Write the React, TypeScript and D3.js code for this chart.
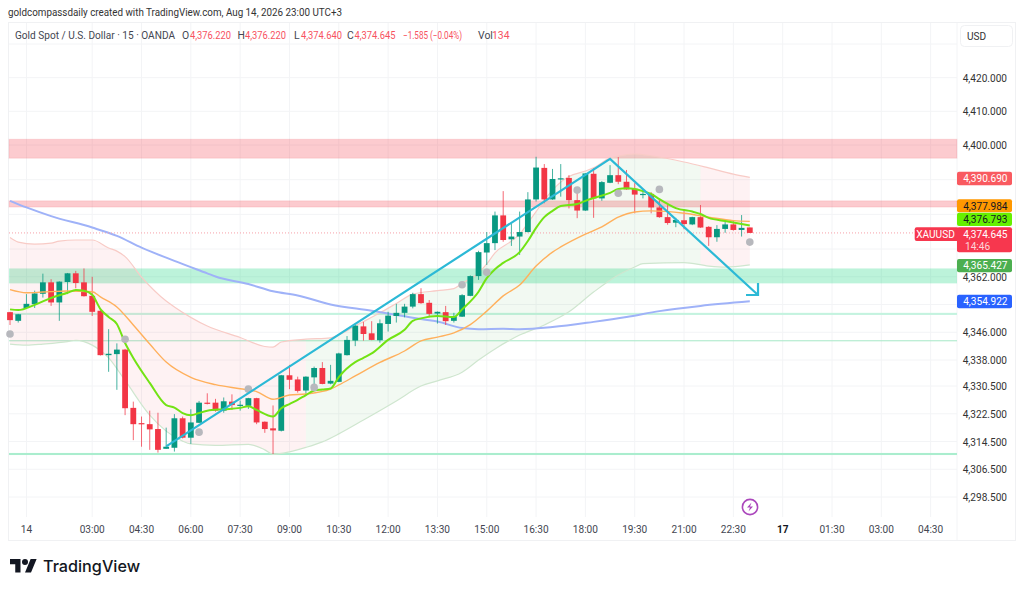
import React from 'react'
import * as d3 from 'd3'

const opens = [4351.8,4349.3,4353.0,4354.1,4357.1,4360.4,4354.6,4360.5,4363.0,4360.4,4356.5,4352.2,4339.4,4339.7,4341.0,4324.2,4319.8,4319.5,4318.1,4312.4,4312.7,4321.2,4315.6,4319.9,4325.7,4325.7,4323.4,4326.0,4324.9,4324.8,4327.0,4320.2,4318.3,4317.6,4333.6,4332.4,4329.2,4333.0,4335.7,4331.2,4331.7,4339.4,4343.6,4347.7,4345.7,4343.7,4348.4,4350.7,4351.6,4353.4,4357.0,4354.5,4351.4,4351.8,4349.3,4350.5,4356.5,4362.2,4369.0,4371.7,4379.7,4372.8,4373.6,4374.9,4384.3,4393.4,4384.3,4390.2,4390.5,4384.1,4381.1,4391.7,4384.6,4389.1,4391.3,4389.4,4387.4,4385.7,4385.9,4382.0,4379.2,4377.6,4378.3,4377.1,4379.2,4376.4,4373.4,4375.8,4377.1,4375.5,4376.22]
const highs = [4351.9,4351.3,4357.0,4358.0,4362.9,4361.3,4360.7,4363.1,4363.7,4364.4,4362.0,4352.4,4346.9,4342.8,4341.2,4326.0,4321.7,4323.4,4322.8,4318.5,4322.4,4321.7,4323.8,4326.2,4328.4,4326.8,4327.2,4328.1,4326.3,4327.1,4327.1,4320.3,4324.9,4333.7,4336.6,4333.2,4333.3,4336.1,4337.4,4336.6,4340.1,4344.9,4348.2,4349.0,4349.2,4349.7,4351.9,4354.2,4354.2,4357.4,4358.7,4355.3,4352.0,4353.6,4351.6,4357.0,4362.4,4369.5,4374.9,4380.8,4386.7,4377.4,4380.8,4386.4,4396.6,4394.5,4393.1,4394.5,4391.3,4387.9,4391.9,4393.3,4389.6,4394.2,4396.5,4392.8,4389.0,4387.0,4386.4,4384.1,4382.7,4379.0,4381.5,4379.3,4382.7,4376.6,4376.9,4377.9,4378.2,4379.8,4376.22]
const lows = [4348.1,4348.8,4353.0,4353.0,4356.0,4353.6,4349.3,4357.0,4358.7,4356.3,4350.7,4339.3,4334.6,4329.4,4322.1,4314.9,4313.0,4312.1,4311.3,4312.4,4311.6,4315.4,4313.8,4319.8,4325.2,4323.1,4322.8,4323.6,4323.4,4323.9,4319.5,4317.0,4310.9,4317.4,4329.6,4328.6,4327.9,4330.3,4331.0,4331.0,4331.6,4339.3,4342.0,4343.6,4343.7,4343.0,4346.2,4348.8,4350.3,4352.9,4354.2,4350.3,4348.5,4348.1,4348.8,4350.4,4356.4,4361.1,4365.4,4369.7,4372.1,4370.9,4368.3,4374.8,4383.7,4383.2,4384.2,4385.1,4381.7,4378.9,4381.0,4379.0,4383.9,4389.0,4388.7,4387.1,4380.3,4384.6,4380.3,4379.0,4377.0,4376.3,4375.7,4376.9,4376.1,4370.9,4372.1,4374.7,4375.3,4373.6,4374.64]
const closes = [4349.5,4351.2,4354.2,4357.2,4360.4,4354.6,4360.6,4363.0,4360.2,4356.4,4351.9,4339.4,4339.8,4341.0,4324.1,4319.5,4319.5,4318.0,4312.1,4313.0,4321.2,4315.6,4320.0,4325.7,4325.4,4323.4,4326.1,4325.0,4325.1,4327.0,4320.0,4318.1,4317.7,4333.6,4332.3,4329.1,4333.2,4335.7,4331.1,4332.0,4339.9,4343.8,4347.9,4345.5,4343.8,4348.6,4350.8,4351.6,4353.4,4357.0,4354.4,4351.3,4351.9,4349.2,4350.6,4356.7,4362.2,4369.1,4371.7,4379.7,4372.6,4373.6,4374.9,4384.3,4393.5,4384.3,4390.2,4390.4,4384.1,4381.1,4391.8,4384.6,4389.3,4391.3,4389.4,4387.2,4385.7,4385.9,4382.0,4379.2,4377.5,4378.4,4377.2,4379.2,4376.2,4373.4,4375.8,4377.1,4375.5,4376.1,4374.645]

const fastIdx = [0,1,3,5,7,8,9,10,11,12,13,14,15,17,19,20,21,22,23,24,26,28,29,30,32,33,34,35,36,37,38,39,40,42,43,44,46,48,49,50,52,54,55,57,58,59,60,62,63,64,65,66,67,69,70,71,73,74,75,76,77,78,79,80,81,83,84,85,87,90]
const fastVal = [4352.6,4352.4,4353.9,4355.9,4357.4,4358.2,4358.0,4356.8,4352.7,4350.4,4348.4,4342.9,4338.6,4331.4,4325.0,4324.3,4322.7,4322.1,4322.7,4323.4,4323.8,4324.2,4324.7,4323.6,4321.7,4324.1,4325.3,4326.5,4327.9,4329.2,4329.5,4329.8,4333.1,4337.4,4338.6,4339.9,4343.8,4346.7,4349.3,4350.0,4350.7,4350.4,4352.6,4357.7,4361.6,4364.2,4366.0,4369.1,4372.3,4376.1,4379.2,4381.0,4382.4,4383.0,4383.9,4384.7,4386.2,4387.3,4387.5,4387.3,4386.7,4385.9,4384.4,4383.0,4381.8,4380.8,4380.1,4379.0,4378.1,4376.793]

const slowIdx = [0,2,4,7,10,11,13,15,17,19,22,25,28,30,32,34,36,39,40,42,45,48,50,52,54,56,58,60,62,64,66,67,70,72,74,76,78,82,85,88,90]
const slowVal = [4358.3,4357.4,4357.6,4357.9,4357.7,4356.2,4353.3,4348.1,4342.6,4337.4,4333.0,4330.9,4329.7,4328.9,4326.7,4327.9,4328.2,4329.6,4330.8,4333.4,4337.3,4340.6,4343.5,4344.6,4345.8,4348.2,4352.1,4356.5,4359.6,4365.1,4369.1,4370.6,4374.3,4376.4,4379.2,4380.7,4381.0,4380.3,4379.2,4378.2,4377.984]

const longIdx = [0,2,5,10,13,16,20,24,25,29,32,35,39,44,47,50,52,55,57,60,62,66,71,75,79,84,90]
const longVal = [4383.9,4382.0,4379.5,4376.2,4373.8,4370.4,4366.6,4363.0,4362.1,4359.9,4357.8,4356.6,4354.0,4352.2,4351.0,4349.8,4349.1,4347.2,4346.9,4347.0,4346.9,4347.5,4349.0,4350.4,4352.1,4353.6,4354.922]

const upperIdx = [0,1,3,5,6,8,10,12,13,14,16,19,20,24,28,31,32,33,36,39,40,42,45,47,49,52,54,55,57,58,59,61,62,63,64,65,66,67,68,70,71,73,74,76,78,82,85,88,90]
const upperVal = [4373.3,4372.0,4371.4,4371.7,4372.3,4372.6,4372.6,4370.3,4369.4,4367.8,4361.9,4355.0,4353.3,4347.8,4344.5,4341.9,4341.7,4343.2,4344.0,4344.4,4345.2,4347.8,4351.6,4354.3,4357.0,4358.0,4358.6,4360.1,4363.1,4365.7,4368.9,4372.3,4374.3,4377.5,4380.8,4384.1,4387.0,4389.3,4390.9,4392.5,4393.4,4396.2,4396.8,4397.4,4396.9,4395.1,4393.4,4391.6,4390.69]

const lowerIdx = [0,2,4,7,8,9,10,12,14,17,19,21,22,25,29,31,32,34,36,38,40,43,47,50,52,55,57,59,62,65,68,71,74,76,77,82,85,87,90]
const lowerVal = [4342.6,4342.3,4342.6,4343.3,4343.7,4343.3,4342.3,4338.6,4332.1,4322.1,4317.5,4314.6,4313.8,4313.4,4313.7,4312.1,4310.8,4311.5,4312.8,4314.4,4316.7,4320.7,4326.2,4330.5,4332.0,4334.5,4338.0,4341.2,4345.2,4348.1,4351.9,4357.6,4362.5,4364.8,4365.8,4366.1,4365.1,4364.8,4365.427]

const dotIdx = [0,14,23,29,37,55,58,69,74,79,90]
const dotVal = [4345.5,4344.0,4317.2,4329.6,4330.1,4359.7,4363.3,4387.0,4386.1,4387.2,4372.0]

const trendIdx = [19,73,91]
const trendVal = [4313.1,4396.0,4356.75]

const zoneTop = [4401.7,4383.9,4364.4,4351.6,4343.7,4311.2]
const zoneBot = [4396.2,4382.1,4360.1,4351.0,4343.4,4310.6]
const zoneFill = ['rgba(242,54,69,0.26)','rgba(242,54,69,0.26)','rgba(8,210,120,0.27)','#c4f3df','#a9e9c9','#aaedce']

const gridPrices = [4430,4420,4410,4400,4390,4380,4370,4362,4354,4346,4338,4330.5,4322.5,4314.5,4306.5,4298.5]
const tickPrices = [4420,4410,4400,4362,4346,4338,4330.5,4322.5,4314.5,4306.5,4298.5]
const timeIdx = [2,10,16,22,28,34,40,46,52,58,64,70,76,82,88,94,100,106,112]
const timeLabels = ['14','03:00','04:30','06:00','07:30','09:00','10:30','12:00','13:30','15:00','16:30','18:00','19:30','21:00','22:30','17','01:30','03:00','04:30']

const legendText = ['Gold Spot / U.S. Dollar · 15 · OANDA','O','4,376.220','H','4,376.220','L','4,374.640','C','4,374.645','−1.585 (−0.04%)','Vol','134']
const legendX = [15,182,190,237.5,245,294,301,347,354.5,403,478,492]
const legendW = [160,0,41,0,41,0,41,0,41,59,0,0]
const legendRed = [false,false,true,false,true,false,true,false,true,true,false,true]

const badgeText = ['4,390.690','4,377.984','4,376.793','4,374.645','4,365.427','4,354.922']
const badgeTop = [171.7,199.3,212.7,227.3,259,294.7]
const badgeH = [13.5,13,13.3,25,13.3,13.6]
const badgeFill = ['#f95a60','#ff9800','#66f000','#f7374e','#4caf50','#2962ff']
const badgeInk = ['#fff','#131722','#131722','#fff','#fff','#fff']

const FONT = 'Roboto, sans-serif'
const TEXT = 10.1
const UP = '#089981'
const DOWN = '#f23645'

const x = d3.scaleLinear().domain([0, 90]).range([10, 749.8])
const y = d3.scaleLinear().domain([4298.5, 4400, 4430]).range([497, 145, 44])

const series = (idx: number[], val: number[]) =>
  d3.line<number>().x((_, i) => x(idx[i])).y(d => y(d)).curve(d3.curveMonotoneX)(val) as string

const upperAt = d3.scaleLinear().domain(upperIdx).range(upperVal)
const lowerAt = d3.scaleLinear().domain(lowerIdx).range(lowerVal)
const band = d3.area<number>().x(d => x(d)).y0(d => y(lowerAt(d))).y1(d => y(upperAt(d)))

const bandParts = [
  { from: 0, to: 36, fill: 'rgba(247,82,95,0.075)' },
  { from: 36, to: 84, fill: 'rgba(76,175,80,0.075)' },
  { from: 84, to: 90, fill: 'rgba(247,82,95,0.075)' },
]

export default function App() {
  const tip = { x: x(91), y: y(4356.75) }
  return (
    <svg width={1024} height={590} style={{ position: 'fixed', left: 0, top: 0, background: '#fff' }} fontFamily={FONT}>
      <text x={8} y={16} fontSize={10.4} textLength={334} lengthAdjust="spacingAndGlyphs" fill="#333">goldcompassdaily created with TradingView.com, Aug 14, 2026 23:00 UTC+3</text>

      <rect x={8.5} y={22.5} width={1007} height={518} fill="none" stroke="#f0f1f3" />

      <g stroke="#f3f4f6">
        {gridPrices.map(p => <line key={p} x1={9} x2={957} y1={y(p)} y2={y(p)} />)}
        {timeIdx.map(i => <line key={i} x1={x(i)} x2={x(i)} y1={23} y2={517} />)}
        <line x1={957} x2={957} y1={23} y2={540} />
      </g>

      {zoneTop.map((t, i) => (
        <rect key={i} x={9} width={948} y={y(t)} height={y(zoneBot[i]) - y(t)}
          fill={zoneFill[i]} stroke={i < 2 ? 'rgba(242,54,69,0.12)' : 'none'} />
      ))}

      {bandParts.map(b => (
        <path key={b.from} d={band(d3.range(b.from, b.to + 1)) as string} fill={b.fill} />
      ))}
      <path d={series(upperIdx, upperVal)} fill="none" stroke="#f8cbc6" strokeWidth={1.2} />
      <path d={series(lowerIdx, lowerVal)} fill="none" stroke="#cfe6cf" strokeWidth={1.2} />
      <path d={series(longIdx, longVal)} fill="none" stroke="#9fb2f8" strokeWidth={2} />

      <line x1={9} x2={915} y1={y(4374.645)} y2={y(4374.645)} stroke="#f7a0a8" strokeDasharray="1 2" />

      {opens.map((o, i) => {
        const c = closes[i]
        const color = c >= o ? UP : DOWN
        const top = Math.min(y(o), y(c))
        return (
          <g key={i} fill={color} stroke={color}>
            <line x1={x(i)} x2={x(i)} y1={y(highs[i])} y2={y(lows[i])} strokeOpacity={0.75} />
            <rect x={x(i) - 2.9} width={5.8} y={top} height={Math.max(Math.abs(y(o) - y(c)), 1.2)} stroke="none" />
          </g>
        )
      })}

      <path d={series(slowIdx, slowVal)} fill="none" stroke="#ffb05c" strokeWidth={1.4} />
      <path d={series(fastIdx, fastVal)} fill="none" stroke="#72e314" strokeWidth={2} />

      {dotIdx.map((d, i) => <circle key={d} cx={x(d)} cy={y(dotVal[i])} r={3.8} fill="#b7b8bd" />)}

      <path d={d3.line<number>().x((_, i) => x(trendIdx[i])).y(d => y(d))(trendVal) as string}
        fill="none" stroke="#2cb9d6" strokeWidth={2.2} />
      <path d={`M${tip.x},${tip.y - 12}V${tip.y}H${tip.x - 12}`} fill="none" stroke="#2cb9d6" strokeWidth={2.2} />

      <circle cx={750} cy={507} r={7.6} fill="#fff" stroke="#ab47bc" strokeWidth={1.6} />
      <path d="M751.5,502.5 L747,507.6 H750 L748.5,511.5 L753,506.4 H750 Z" fill="#ab47bc" />

      {legendText.map((t, i) => (
        <text key={i} x={legendX[i]} y={39} fontSize={10.4} textLength={legendW[i] || undefined}
          lengthAdjust="spacingAndGlyphs" fill={legendRed[i] ? '#f7525f' : '#434651'}>{t}</text>
      ))}

      <rect x={960.5} y={25.5} width={52} height={21} rx={4} fill="#fff" stroke="#f0f1f3" />
      <text x={967} y={40} fontSize={TEXT} fill="#333">USD</text>

      {tickPrices.map(p => (
        <text key={p} x={1007} y={y(p) + 4} fontSize={TEXT} textAnchor="end" fill="#333">{d3.format(',.3f')(p)}</text>
      ))}

      {timeIdx.map((i, k) => (
        <text key={i} x={x(i)} y={533} fontSize={TEXT} textAnchor="middle" fill={timeLabels[k] === '17' ? '#131722' : '#434651'}
          fontWeight={timeLabels[k] === '17' ? 700 : 400}>{timeLabels[k]}</text>
      ))}

      <rect x={914.7} y={227.3} width={44} height={13.7} rx={2} fill="#f7374e" />
      <text x={935.5} y={238} fontSize={TEXT} textAnchor="middle" fill="#fff">XAUUSD</text>

      {badgeText.map((t, i) => (
        <g key={t}>
          <rect x={957} y={badgeTop[i]} width={55} height={badgeH[i]} rx={2} fill={badgeFill[i]} />
          <text x={1007.5} y={badgeTop[i] + 10.3} fontSize={TEXT} textAnchor="end" fill={badgeInk[i]}>{t}</text>
        </g>
      ))}
      <text x={965} y={249.5} fontSize={TEXT} fill="#fcd5d9">14:46</text>

      <g transform="translate(10,556) scale(0.75)" fill="#131722">
        <path d="M14 22H7V11H0V4h14v18zM28 22h-8l7.5-18h8L28 22z" />
        <circle cx={20} cy={8} r={4} />
      </g>
      <text x={43} y={571.5} fontSize={16.2} fontWeight={500} fontFamily="Inter, sans-serif" fill="#131722">TradingView</text>
    </svg>
  )
}
